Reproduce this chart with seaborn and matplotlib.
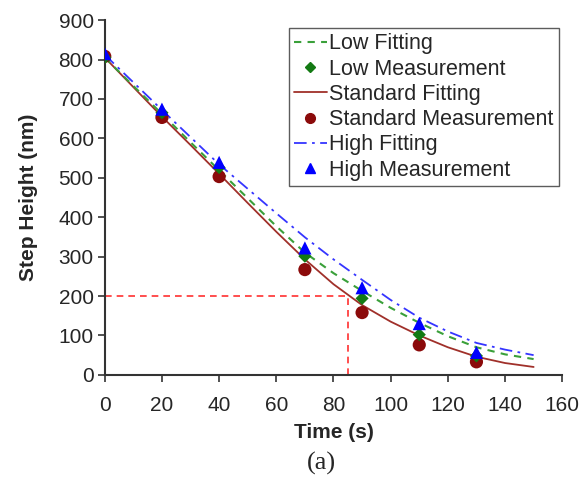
import numpy as np
import pandas as pd
import matplotlib
matplotlib.use('Agg')
import matplotlib.pyplot as plt
import seaborn as sns
from matplotlib.lines import Line2D

# measured points
meas_time = [0, 20, 40, 70, 90, 110, 130]
low_meas = [805, 665, 526, 301, 194, 102, 48]
std_meas = [808, 653, 503, 267, 158, 76, 33]
high_meas = [815, 674, 539, 322, 221, 130, 57]

# fitted curves
fit_time = [0, 10, 20, 30, 40, 50, 60, 70, 80, 90, 100, 110, 120, 130, 140, 150]
low_fit = [805, 733, 662, 590, 519, 448, 377, 310, 258, 213, 170, 132, 98, 70, 52, 40]
std_fit = [805, 730, 655, 583, 510, 436, 363, 293, 230, 177, 135, 100, 70, 46, 30, 20]
high_fit = [812, 742, 672, 603, 534, 472, 410, 349, 293, 241, 190, 145, 110, 81, 64, 50]

# reference lines
ref_height = 200
ref_time = 85

sns.set_style('white')
plt.rcParams['font.family'] = ['Liberation Sans', 'DejaVu Sans']

fig = plt.figure(figsize=(5.82, 4.90), dpi=100)
ax = fig.add_axes([0.180, 0.235, 0.786, 0.724])

fits = pd.DataFrame({'t': fit_time, 'low': low_fit, 'std': std_fit, 'high': high_fit})
meas = pd.DataFrame({'t': meas_time, 'low': low_meas, 'std': std_meas, 'high': high_meas})

# red dashed guide lines
ax.plot([0, ref_time], [ref_height, ref_height], color='#ff3030', ls=(0, (4, 3)), lw=1.2)
ax.plot([ref_time, ref_time], [0, ref_height], color='#ff3030', ls=(0, (4, 3)), lw=1.2)

sns.lineplot(data=fits, x='t', y='std', ax=ax, color='#a0302a', lw=1.3, label='_std')
sns.lineplot(data=fits, x='t', y='low', ax=ax, color='#3aa03a', lw=1.5, label='_low')
sns.lineplot(data=fits, x='t', y='high', ax=ax, color='#3535ff', lw=1.3, label='_high')
ax.lines[-1].set_dashes([7, 3, 1.5, 3])
ax.lines[-2].set_dashes([3.5, 3])

sns.scatterplot(data=meas, x='t', y='std', ax=ax, color='#8b0a0a', marker='o', s=90,
                edgecolor='none', label='_sm', zorder=5)
sns.scatterplot(data=meas, x='t', y='low', ax=ax, color='#137a13', marker='D', s=45,
                edgecolor='none', label='_lm', zorder=5)
sns.scatterplot(data=meas, x='t', y='high', ax=ax, color='#0000ff', marker='^', s=90,
                edgecolor='none', label='_hm', zorder=5)

handles = [
    Line2D([], [], color='#3aa03a', lw=1.5, dashes=[3.5, 3]),
    Line2D([], [], color='#137a13', marker='D', ls='none', markersize=5),
    Line2D([], [], color='#a0302a', lw=1.3),
    Line2D([], [], color='#8b0a0a', marker='o', ls='none', markersize=7),
    Line2D([], [], color='#3535ff', lw=1.3, dashes=[7, 3, 1.5, 3]),
    Line2D([], [], color='#0000ff', marker='^', ls='none', markersize=7),
]
labels = ['Low Fitting', 'Low Measurement', 'Standard Fitting',
          'Standard Measurement', 'High Fitting', 'High Measurement']
leg = ax.legend(handles, labels, loc='upper right', bbox_to_anchor=(0.992, 0.978),
                fontsize=15.5, frameon=True, fancybox=False, edgecolor='#333333',
                handlelength=1.5, handletextpad=0.1, labelspacing=0.2,
                borderpad=0.25, borderaxespad=0)
leg.get_frame().set_linewidth(1.0)

ax.set_xlim(0, 160)
ax.set_ylim(0, 900)
ax.set_xticks(range(0, 161, 20))
ax.set_yticks(range(0, 901, 100))
ax.tick_params(axis='both', labelsize=15, direction='out', length=5, width=1.2,
               color='#333333', bottom=True, left=True, pad=3)
ax.tick_params(axis='x', pad=10)
for s in ['top', 'right']:
    ax.spines[s].set_visible(False)
for s in ['left', 'bottom']:
    ax.spines[s].set_color('#333333')
    ax.spines[s].set_linewidth(1.5)

ax.set_xlabel('Time (s)', fontsize=15, fontweight='bold', labelpad=6)
ax.set_ylabel('Step Height (nm)', fontsize=15, fontweight='bold', labelpad=15)

fig.text(0.553, 0.055, '(a)', fontsize=19, family=['Liberation Serif', 'DejaVu Serif'],
         ha='center', va='center')

fig.savefig('out.png', dpi=100)
